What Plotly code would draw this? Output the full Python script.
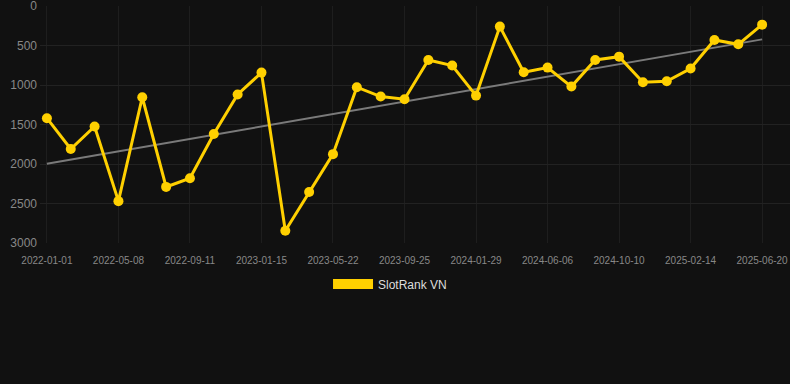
import numpy as np
import plotly.graph_objects as go

dates = ["2022-01-01", "2022-02-12", "2022-03-26", "2022-05-08", "2022-06-19", "2022-07-31",
         "2022-09-11", "2022-10-23", "2022-12-04", "2023-01-15", "2023-02-26", "2023-04-09",
         "2023-05-22", "2023-07-03", "2023-08-14", "2023-09-25", "2023-11-06", "2023-12-18",
         "2024-01-29", "2024-03-11", "2024-04-23", "2024-06-06", "2024-07-18", "2024-08-29",
         "2024-10-10", "2024-11-21", "2025-01-02", "2025-02-14", "2025-03-28", "2025-05-09",
         "2025-06-20"]
ranks = [1420, 1810, 1525, 2470, 1155, 2290, 2180, 1620, 1120, 843, 2845, 2355, 1875, 1028,
         1146, 1180, 683, 754, 1134, 261, 839, 780, 1020, 683, 641, 965, 952, 792, 430, 485, 236]
tick_labels = dates[::3]
y_ticks = [0, 500, 1000, 1500, 2000, 2500, 3000]
series_name = "SlotRank VN"

idx = np.arange(len(ranks))
slope, intercept = np.polyfit(idx, ranks, 1)
trend = slope * idx + intercept

fig = go.Figure()
fig.add_trace(go.Scatter(x=dates, y=trend, mode="lines",
                         line=dict(color="#7a7a7a", width=2), showlegend=False, hoverinfo="skip"))
fig.add_trace(go.Scatter(x=dates, y=ranks, mode="lines+markers", name=series_name,
                         line=dict(color="#FFD000", width=3),
                         marker=dict(color="#FFD000", size=10), showlegend=False))
fig.add_trace(go.Scatter(x=[None], y=[None], mode="lines", name=series_name,
                         line=dict(color="#FFD000", width=10), showlegend=True))

fig.update_layout(
    width=790, height=384,
    paper_bgcolor="#111111", plot_bgcolor="#111111",
    margin=dict(l=40, r=0, t=6, b=141, autoexpand=False),
    font=dict(family="Liberation Sans, Arial, sans-serif", color="#888888"),
    xaxis=dict(type="category", categoryorder="array", categoryarray=dates,
               tickvals=tick_labels, ticktext=tick_labels, tickangle=0,
               range=[-0.29, 31.17], showgrid=True, gridcolor="#1e1e1e", gridwidth=1,
               showline=False, zeroline=False, ticks="", tickfont=dict(size=10, color="#888888"),
               ticklabeloverflow="allow", ticklabelstandoff=10),
    yaxis=dict(range=[3000, 0], tickvals=y_ticks,
               showgrid=True, gridcolor="#222222", gridwidth=1, zeroline=False,
               ticks="", tickfont=dict(size=12, color="#888888"), ticklabelstandoff=2,
               ticklabeloverflow="allow"),
    legend=dict(orientation="h", x=0.4667, xanchor="center",
                y=-0.112, yanchor="top",
                font=dict(size=12, color="#dddddd"), itemwidth=40, bgcolor="rgba(0,0,0,0)"),
    showlegend=True,
)
fig.write_html("out.html", config={"displayModeBar": False},
               post_script="document.body.style.margin='0';document.body.style.background='#111111';")
